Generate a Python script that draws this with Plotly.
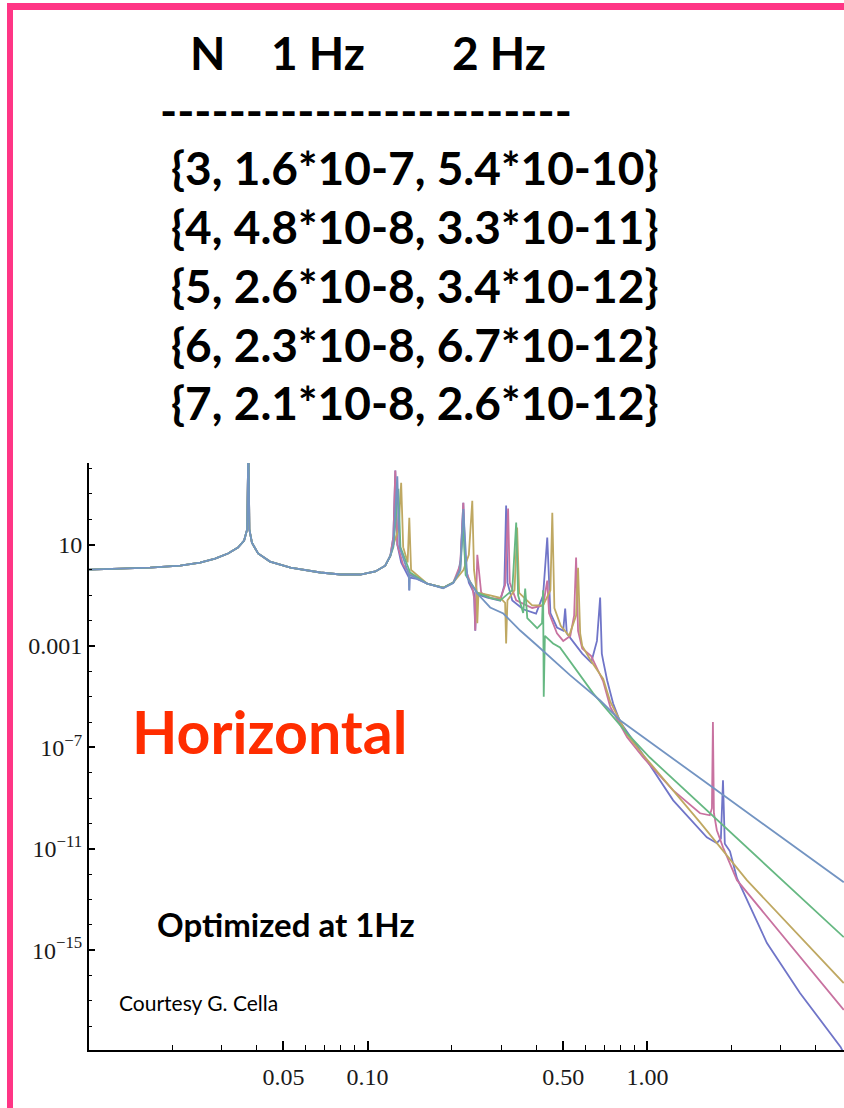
import numpy as np
import plotly.graph_objects as go

# ---------------- data (frequency in Hz, transfer function as log10) ----------------
shared_f = [0.0101, 0.0131, 0.0167, 0.0214, 0.0252, 0.0285, 0.0317, 0.0344, 0.0362, 0.0371,
            0.0375, 0.0378, 0.0386, 0.0406, 0.0448, 0.053, 0.0678, 0.08, 0.0942, 0.1066,
            0.1156, 0.1205]
shared_log = [0.01, 0.05, 0.09, 0.17, 0.29, 0.45, 0.65, 0.88, 1.16, 1.6,
              5.0, 1.6, 1.08, 0.65, 0.33, 0.09, -0.10, -0.18, -0.18, -0.06,
              0.17, 0.55]

n7_f = [0.1236, 0.1256, 0.1277, 0.1318, 0.138, 0.1405, 0.1409, 0.1413, 0.15, 0.1633,
        0.1862, 0.2023, 0.21, 0.215, 0.2198, 0.223, 0.23, 0.24, 0.2425, 0.245,
        0.2679, 0.2979, 0.308, 0.3126, 0.316, 0.3288, 0.3597, 0.3999, 0.4238, 0.4385,
        0.45, 0.475, 0.5, 0.5082, 0.515, 0.547, 0.5848, 0.6295, 0.66, 0.6776,
        0.687, 0.695, 0.718, 0.754, 0.80, 0.942, 1.236, 1.63, 1.77, 1.83,
        1.862, 1.89, 1.972, 2.089, 2.673, 3.508, 4.9, 5.1]
n7_log = [1.3, 3.92, 1.0, 0.3, -0.1, -0.3, -0.81, -0.3, -0.35, -0.54,
          -0.70, -0.50, -0.2, 0.4, 2.65, 0.3, -0.5, -0.9, -2.4, -0.95,
          -1.09, -1.21, -0.6, 2.54, -0.5, -1.2, -1.55, -1.72, -1.0, 1.28,
          -1.7, -2.27, -2.39, -1.52, -2.5, -2.9, -3.3, -3.65, -2.8, -1.09,
          -3.3, -3.6, -4.36, -5.27, -6.01, -7.12, -9.09, -10.55, -10.78, -10.6,
          -8.30, -10.8, -11.1, -12.16, -14.72, -16.69, -18.82, -19.2]

n6_f = [0.1236, 0.1256, 0.1277, 0.134, 0.1419, 0.1633, 0.1862, 0.2023, 0.2143, 0.2198,
        0.224, 0.2366, 0.241, 0.2425, 0.244, 0.2466, 0.2546, 0.2742, 0.2979, 0.31,
        0.3177, 0.322, 0.3396, 0.3873, 0.4238, 0.4385, 0.445, 0.475, 0.5, 0.53,
        0.547, 0.5559, 0.565, 0.5848, 0.6295, 0.695, 0.7364, 0.846, 0.966, 1.236,
        1.542, 1.671, 1.70, 1.714, 1.728, 1.77, 1.862, 2.089, 5.03]
n6_log = [1.3, 3.92, 1.0, 0.2, -0.14, -0.54, -0.70, -0.50, 0.2, 2.65,
          0.0, -0.7, -1.2, -2.39, -1.1, 0.6, -0.9, -1.1, -1.15, -0.6,
          2.42, -0.5, -1.2, -1.5, -1.4, -0.42, -1.7, -2.5, -2.8, -2.6,
          -1.8, 0.49, -2.4, -3.1, -3.4, -4.4, -5.4, -6.6, -7.4, -8.7,
          -9.6, -9.68, -9.4, -6.0, -9.6, -10.27, -10.94, -12.24, -17.36]

n5_f = [0.1236, 0.129, 0.1318, 0.134, 0.139, 0.1409, 0.143, 0.1633, 0.1862, 0.2023,
        0.22, 0.23, 0.2366, 0.24, 0.245, 0.2466, 0.249, 0.2742, 0.2979, 0.31,
        0.3126, 0.316, 0.335, 0.3422, 0.348, 0.3873, 0.4238, 0.45, 0.4571, 0.465,
        0.49, 0.5248, 0.5559, 0.5649, 0.575, 0.5848, 0.6295, 0.695, 0.7364, 0.846,
        0.966, 1.542, 2.266, 5.03]
n5_log = [1.0, 1.6, 3.44, 0.9, 0.3, 2.06, 0.0, -0.54, -0.70, -0.50,
          0.0, 0.6, 2.73, 0.0, -0.8, -2.1, -0.9, -1.0, -1.1, -1.3,
          -2.9, -1.2, -0.8, 1.67, -0.9, -1.4, -1.4, -0.8, 2.26, -1.5,
          -2.2, -2.6, -1.8, 0.09, -2.5, -3.0, -3.6, -4.3, -5.2, -6.5,
          -7.3, -9.96, -12.24, -16.30]

n4_f = [0.1236, 0.1288, 0.131, 0.1419, 0.1633, 0.1862, 0.2023, 0.2143, 0.2198, 0.224,
        0.2466, 0.2742, 0.2979, 0.3288, 0.3396, 0.345, 0.3597, 0.3657, 0.372, 0.4035,
        0.42, 0.4238, 0.426, 0.43, 0.46, 0.487, 0.56, 0.64, 0.736, 0.846,
        1.02, 5.03]
n4_log = [0.9, 3.2, 0.9, -0.1, -0.54, -0.70, -0.50, 0.0, 1.8, -0.2,
          -0.9, -1.1, -1.2, -0.8, 1.87, -1.0, -1.7, -0.73, -1.9, -2.3,
          -2.1, -0.8, -5.0, -2.6, -2.9, -3.06, -3.97, -4.87, -5.66, -6.45,
          -7.4, -14.49]

n3_f = [0.1236, 0.1277, 0.13, 0.1405, 0.1409, 0.1413, 0.1633, 0.1862, 0.2023, 0.2143,
        0.2198, 0.227, 0.2466, 0.2742, 0.3055, 0.351, 0.4035, 0.53, 0.678, 0.80,
        1.542, 5.03]
n3_log = [1.0, 3.7, 0.9, -0.2, -0.8, -0.2, -0.54, -0.72, -0.52, 0.0,
          2.4, -0.3, -0.93, -1.48, -1.72, -2.39, -2.98, -4.16, -5.15, -5.94,
          -8.22, -12.32]

series_names = ["N=7", "N=6", "N=5", "N=4", "N=3"]
series_f = [n7_f, n6_f, n5_f, n4_f, n3_f]
series_log = [n7_log, n6_log, n5_log, n4_log, n3_log]
series_colors = ["#7075c8", "#c872a0", "#bfa862", "#66b882", "#7394c2"]

# table text
table_n = [3, 4, 5, 6, 7]
table_1hz = ["1.6*10-7", "4.8*10-8", "2.6*10-8", "2.3*10-8", "2.1*10-8"]
table_2hz = ["5.4*10-10", "3.3*10-11", "3.4*10-12", "6.7*10-12", "2.6*10-12"]

x_tickvals = [0.05, 0.1, 0.5, 1.0]
x_ticktext = ["0.05", "0.10", "0.50", "1.00"]
x_minor = [0.02, 0.03, 0.04, 0.06, 0.07, 0.08, 0.09, 0.2, 0.3, 0.4, 0.6, 0.7, 0.8, 0.9, 2, 3, 4]
y_tickvals = [10, 1e-3, 1e-7, 1e-11, 1e-15]
y_ticktext = ["10", "0.001", "10<sup>\u22127</sup>", "10<sup>\u221211</sup>", "10<sup>\u221215</sup>"]
y_minor = [10.0 ** k for k in range(4, -19, -1) if k not in (1, -3, -7, -11, -15)]

# ---------------- figure ----------------
W, H = 844, 1108
L, R, T, B = 89, 0, 463, 58
PW, PH = W - L - R, H - T - B


def pxx(x):
    return (x - L) / PW


def pxy(y):
    return (H - B - y) / PH


fig = go.Figure()
for name, f, lg, col in zip(series_names, series_f, series_log, series_colors):
    xs = np.array(shared_f + f)
    ys = np.power(10.0, np.array(shared_log + lg))
    fig.add_trace(go.Scatter(x=xs, y=ys, mode="lines", name=name,
                             line=dict(color=col, width=1.8), showlegend=False))

tickfont = dict(family="Liberation Serif", size=24, color="#1a1a1a")
fig.update_xaxes(type="log", range=[np.log10(0.0101), np.log10(5.04)],
                 showgrid=False, zeroline=False, showline=True, linecolor="black", linewidth=2,
                 ticks="inside", ticklen=9, tickwidth=1.5, tickcolor="black",
                 tickmode="array", tickvals=x_tickvals, ticktext=x_ticktext, tickfont=tickfont,
                 ticklabelstandoff=4,
                 minor=dict(tickmode="array", tickvals=x_minor, ticks="inside", ticklen=5,
                            tickwidth=1.2, tickcolor="black", showgrid=False))
fig.update_yaxes(type="log", range=[-18.94, 4.22],
                 showgrid=False, zeroline=False, showline=True, linecolor="black", linewidth=2,
                 ticks="inside", ticklen=6, tickwidth=1.5, tickcolor="black",
                 tickmode="array", tickvals=y_tickvals, ticktext=y_ticktext, tickfont=tickfont,
                 minor=dict(tickmode="array", tickvals=y_minor, ticks="inside", ticklen=3,
                            tickwidth=1.2, tickcolor="black", showgrid=False))

ann = []
bold = dict(family="Lato", size=46, color="black")
ann.append(dict(x=pxx(207), y=pxy(52), text="<b>N</b>", font=bold))
ann.append(dict(x=pxx(318), y=pxy(52), text="<b>1 Hz</b>", font=bold))
ann.append(dict(x=pxx(499), y=pxy(52), text="<b>2 Hz</b>", font=bold))
ann.append(dict(x=pxx(366), y=pxy(110), text="<b>" + "-" * 24 + "</b>", font=bold))
for i, (n, a, b) in enumerate(zip(table_n, table_1hz, table_2hz)):
    ann.append(dict(x=pxx(414), y=pxy(167 + 59 * i), text="<b>{%d, %s, %s}</b>" % (n, a, b), font=bold))
ann.append(dict(x=pxx(269), y=pxy(731), text="<b>Horizontal</b>",
                font=dict(family="Lato", size=59, color="#ff2d00")))
ann.append(dict(x=pxx(286), y=pxy(924), text="<b>Optimized at 1Hz</b>",
                font=dict(family="Lato", size=33, color="black")))
ann.append(dict(x=pxx(198), y=pxy(1002), text="Courtesy G. Cella",
                font=dict(family="Lato", size=21, color="black")))
for a in ann:
    a.update(xref="paper", yref="paper", xanchor="center", yanchor="middle", showarrow=False)

pink = "#ff3585"
shapes = [
    dict(type="rect", xref="paper", yref="paper", x0=pxx(7), x1=pxx(13), y0=pxy(H + 5), y1=pxy(3),
         fillcolor=pink, line=dict(width=0)),
    dict(type="rect", xref="paper", yref="paper", x0=pxx(7), x1=pxx(W + 5), y0=pxy(10), y1=pxy(3),
         fillcolor=pink, line=dict(width=0)),
]

fig.update_layout(width=W, height=H, margin=dict(l=L, r=R, t=T, b=B, pad=0),
                  paper_bgcolor="white", plot_bgcolor="white",
                  annotations=ann, shapes=shapes, showlegend=False)

fig.write_html("out.html")
